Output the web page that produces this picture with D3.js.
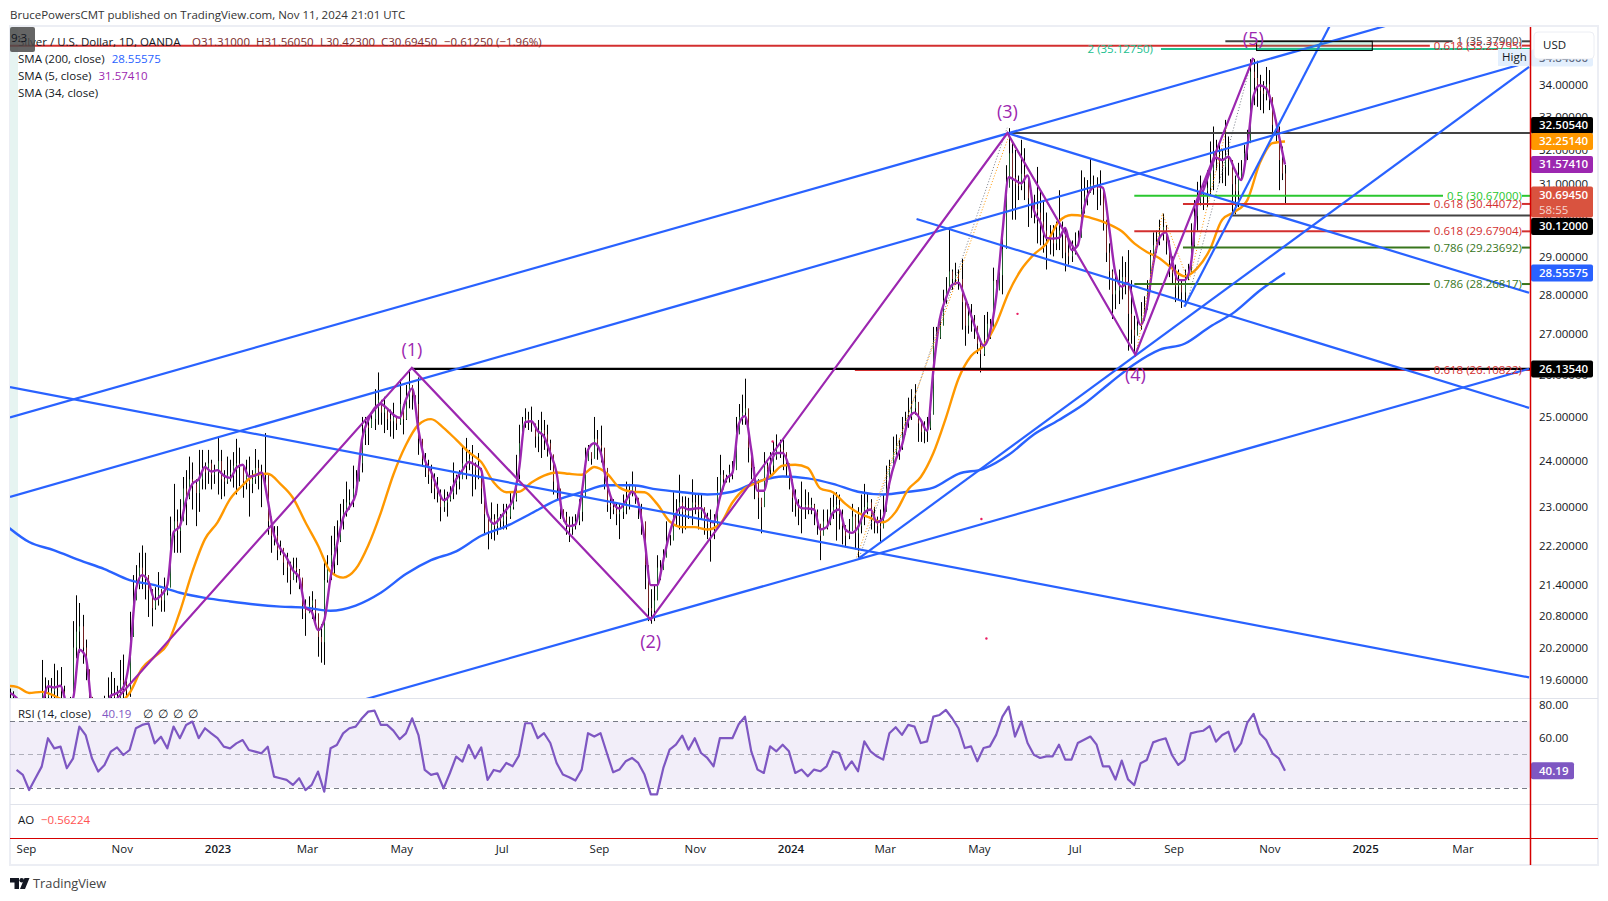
<!DOCTYPE html>
<html>
<head>
<meta charset="utf-8">
<title>Silver / U.S. Dollar</title>
<script src="https://cdn.jsdelivr.net/npm/d3@7"></script>
<style>
  html, body { margin: 0; padding: 0; background: #fff; }
  svg { display: block; }
  text { font-family: "Open Sans", sans-serif; font-size: 11.5px; fill: #131722; }
</style>
</head>
<body>
<div id="chart"></div>
<script>
// daily bars, oldest first, one bar every two days up to the last session
var barHigh = [
  19.45,19.4,19.2,19.1,19.05,18.95,18.9,19.0,19.1,19.2,
  19.97,19.65,19.6,19.64,19.9,19.78,19.84,19.5,19.2,19.3,
  20.7,21.2,21.05,20.82,20.35,19.78,19.2,19.0,18.9,19.1,
  19.32,19.65,19.75,19.64,19.5,19.97,20.07,19.6,20.88,21.6,
  21.8,22.05,22.2,22.05,21.6,21.32,21.36,21.66,21.32,21.55,
  21.45,22.8,23.5,22.95,23.17,23.65,23.8,24.1,23.97,23.6,
  24.25,24.25,23.97,24.25,24.03,23.92,24.55,24.25,23.8,24.1,
  24.03,24.2,24.5,24.3,23.92,24.03,24.1,23.8,24.27,24.03,
  23.92,24.63,23.05,22.8,22.6,22.6,22.3,22.05,22.05,21.87,
  21.95,21.95,21.72,21.37,21.12,21.18,21.28,21.12,20.68,20.64,
  21.9,22.0,22.4,22.6,22.72,23.07,23.17,23.55,23.38,23.9,
  23.8,24.18,25.0,25.0,24.93,25.1,25.65,26.05,25.33,25.47,
  25.05,25.17,25.33,25.0,25.88,25.17,25.75,26.13,25.7,25.5,
  25.93,24.2,24.18,24.03,23.92,23.73,23.65,23.38,23.38,23.33,
  23.45,23.97,23.7,23.8,24.36,24.52,24.25,24.36,23.97,24.18,
  23.8,23.17,22.75,23.1,22.85,23.07,22.85,23.07,23.07,23.32,
  23.27,24.14,24.82,25.0,25.2,25.12,25.24,24.77,24.93,25.12,
  24.93,24.82,24.48,23.8,23.6,23.07,22.95,22.9,22.8,22.8,
  22.85,23.17,23.45,24.3,24.36,24.14,25.0,24.7,24.8,24.14,
  23.22,23.23,23.17,23.07,23.07,23.27,23.55,23.5,23.77,23.38,
  23.17,23.07,22.33,21.4,21.32,21.4,22.0,21.9,22.12,22.7,
  22.42,23.32,23.17,23.7,23.23,23.23,23.2,23.6,23.27,23.27,
  23.27,22.95,22.88,22.95,22.85,23.65,24.14,23.8,23.7,23.92,
  24.0,25.0,25.3,25.52,25.9,24.93,24.18,23.87,23.6,23.17,
  24.2,23.97,24.2,24.43,24.6,24.48,24.48,24.18,23.92,23.5,
  23.38,23.17,23.55,23.38,23.32,23.2,23.07,22.95,22.6,22.95,
  22.95,23.2,23.27,23.32,23.27,22.95,22.62,22.75,23.07,22.85,
  23.0,23.27,23.5,23.32,23.17,23.0,22.8,22.95,23.27,23.9,
  24.03,24.55,24.6,24.48,25.0,25.12,25.45,25.65,25.77,25.05,
  24.93,24.9,25.0,25.35,27.17,27.17,27.5,28.12,28.45,29.8,
  28.65,28.83,28.65,28.93,27.45,27.75,27.75,27.47,27.0,26.87,
  27.47,27.55,27.37,28.7,28.37,28.7,29.7,31.55,32.65,32.2,
  32.0,31.25,32.3,32.05,31.2,30.83,30.7,31.5,30.83,30.55,
  30.2,29.85,29.85,29.95,30.83,29.95,29.75,29.43,29.43,29.65,
  29.7,31.4,31.2,31.12,31.75,31.25,31.2,31.4,30.35,29.43,
  29.35,28.65,28.55,28.65,29.0,28.85,29.17,28.37,27.45,27.45,
  27.8,27.95,28.37,29.17,29.65,29.7,30.0,30.17,29.85,29.43,
  29.0,28.78,28.65,28.37,28.65,28.8,29.9,30.55,31.07,31.25,
  31.07,31.4,32.25,32.7,32.3,32.15,32.0,32.9,32.4,31.7,
  31.25,31.62,31.7,32.15,32.6,34.8,34.8,34.75,34.3,34.1,
  34.55,34.45,33.1,32.9,32.7,32.1,31.56
];
var barLow = [
  19.0,18.95,18.8,18.7,18.55,18.5,18.4,18.5,18.6,18.7,
  19.0,19.0,19.0,19.1,19.15,19.1,19.05,18.9,18.7,18.8,
  19.0,20.0,20.1,19.9,19.6,19.0,18.6,18.4,18.3,18.5,
  18.8,18.9,19.0,19.0,18.95,19.2,19.25,19.15,19.3,20.4,
  21.12,21.32,21.32,21.12,20.78,20.6,20.92,21.0,20.88,20.88,
  21.2,22.12,22.05,22.05,22.05,23.1,22.62,23.17,22.95,22.6,
  22.9,23.38,23.38,23.5,23.38,23.5,23.27,23.17,23.23,23.5,
  23.55,23.42,23.27,23.45,23.2,23.38,22.8,23.3,23.5,23.38,
  23.0,23.45,22.42,22.05,22.2,21.9,22.0,21.6,21.45,21.22,
  21.6,21.45,21.32,20.74,20.42,20.88,20.74,20.65,20.03,19.92,
  19.88,21.45,21.5,21.6,21.8,22.27,22.53,22.8,22.95,23.0,
  23.27,23.6,23.75,24.36,24.36,24.75,24.7,24.82,24.82,24.63,
  24.7,24.55,24.5,24.7,24.82,24.6,24.93,25.2,25.17,25.1,
  24.14,23.87,23.65,23.5,23.3,23.17,23.1,22.7,22.9,22.8,
  23.12,23.17,23.27,23.38,23.7,23.6,23.8,23.23,23.38,23.6,
  23.07,22.45,22.12,22.33,22.3,22.42,22.53,22.53,22.53,22.75,
  22.95,23.12,23.6,24.48,24.75,24.7,24.66,24.3,24.2,24.07,
  24.25,24.1,23.8,23.27,23.17,22.75,22.7,22.42,22.27,22.42,
  22.53,22.62,22.7,23.55,24.03,23.92,24.25,24.03,23.97,23.38,
  22.9,22.75,22.85,22.62,22.33,22.75,22.85,22.95,23.23,23.07,
  22.75,22.42,21.32,20.7,20.65,20.7,21.55,21.5,21.75,22.0,
  22.2,22.45,22.62,22.53,22.45,22.53,22.75,22.62,22.85,22.53,
  22.75,22.42,22.33,21.87,22.33,23.07,23.23,23.38,23.53,23.53,
  23.6,24.36,24.7,24.82,24.82,23.97,23.6,23.17,22.75,22.45,
  23.6,23.55,23.7,23.7,24.03,24.07,23.8,23.65,23.38,22.9,
  22.8,22.62,22.45,22.75,22.85,22.85,22.62,22.42,21.9,22.53,
  22.53,22.62,22.75,22.3,22.53,22.22,22.18,22.33,22.53,22.12,
  21.95,22.45,22.62,22.85,22.53,22.45,22.45,22.27,22.62,22.95,
  23.65,23.87,24.14,24.03,24.25,24.6,24.75,24.93,25.05,24.43,
  24.43,24.4,24.43,24.7,26.13,26.7,26.87,27.37,27.75,28.12,
  28.12,28.25,28.12,27.1,26.7,27.0,27.05,26.87,26.5,26.05,
  26.45,27.0,26.87,28.0,27.87,28.25,28.0,30.0,31.03,30.0,
  30.0,30.55,30.83,30.55,29.8,30.05,29.9,29.35,29.3,29.1,
  28.65,29.05,29.0,29.17,29.17,28.95,28.6,28.78,28.85,29.05,
  29.3,29.85,30.17,30.4,30.83,30.7,30.27,30.4,29.7,28.85,
  28.12,27.37,27.62,27.75,27.87,28.0,26.58,26.75,26.5,27.0,
  27.1,27.33,27.87,28.78,28.9,29.1,29.3,29.43,29.05,28.45,
  28.25,27.8,27.87,27.65,27.75,28.37,28.78,29.25,29.7,30.4,
  30.27,30.35,30.7,30.83,31.4,31.03,31.03,30.95,31.25,30.15,
  30.15,30.35,31.12,31.4,31.7,33.35,33.35,33.3,33.2,33.1,
  33.5,33.2,32.4,32.25,30.83,31.12,30.42
];
var barClose = [
  19.2,19.15,19.0,18.9,18.8,18.7,18.65,18.8,18.95,19.05,
  19.4,19.3,19.35,19.4,19.5,19.45,19.4,19.2,18.95,19.05,
  20.2,20.5,20.6,20.2,19.8,19.3,18.85,18.7,18.6,18.8,
  19.1,19.3,19.35,19.3,19.25,19.6,19.55,19.4,20.4,21.1,
  21.4,21.75,21.55,21.6,21.3,20.95,21.1,21.3,21.1,21.25,
  21.35,22.4,22.7,22.5,22.7,23.4,23.2,23.6,23.5,23.3,
  23.6,23.85,23.75,23.95,23.7,23.75,24.0,23.6,23.55,23.7,
  23.75,23.9,23.95,23.9,23.55,23.7,23.5,23.6,23.85,23.7,
  23.75,23.7,22.7,22.4,22.4,22.1,22.15,21.85,21.75,21.5,
  21.75,21.7,21.55,21.0,20.85,21.0,21.1,20.85,20.4,20.3,
  21.5,21.8,22.0,22.2,22.3,22.7,22.9,23.1,23.15,23.4,
  23.55,23.95,24.6,24.8,24.75,24.95,25.2,25.4,25.1,25.2,
  24.95,24.9,25.0,24.85,25.3,24.95,25.4,25.75,25.5,25.3,
  24.5,24.05,23.9,23.7,23.6,23.4,23.3,23.0,23.1,23.15,
  23.3,23.5,23.55,23.6,23.95,24.0,24.05,23.9,23.8,23.85,
  23.4,22.85,22.5,22.75,22.6,22.8,22.7,22.85,22.8,23.0,
  23.15,23.7,24.4,24.85,24.95,24.9,24.85,24.55,24.65,24.7,
  24.6,24.4,24.15,23.55,23.4,22.95,22.8,22.65,22.55,22.6,
  22.7,22.9,23.2,24.0,24.2,24.05,24.5,24.35,24.3,23.85,
  23.05,23.0,22.95,22.85,22.9,23.0,23.15,23.3,23.45,23.2,
  22.95,22.7,21.8,20.95,20.9,21.1,21.75,21.7,21.95,22.3,
  22.3,22.9,22.9,23.1,22.9,22.85,22.95,23.1,23.05,22.9,
  23.0,22.7,22.65,22.55,22.6,23.35,23.7,23.6,23.62,23.75,
  23.8,24.6,25.0,25.1,25.2,24.3,23.85,23.5,23.2,23.0,
  23.9,23.8,23.9,24.1,24.3,24.25,24.2,23.95,23.6,23.2,
  23.05,22.95,23.0,23.05,23.0,23.05,22.9,22.65,22.4,22.7,
  22.65,22.9,23.0,23.05,22.85,22.6,22.4,22.5,22.8,22.45,
  22.6,22.9,23.0,23.1,22.85,22.7,22.6,22.55,22.9,23.4,
  23.85,24.2,24.35,24.3,24.6,24.85,25.0,25.2,25.35,24.85,
  24.65,24.7,24.75,25.05,26.8,26.9,27.2,27.85,28.1,28.6,
  28.4,28.5,28.4,27.8,27.2,27.45,27.35,27.2,26.75,26.5,
  26.85,27.25,27.1,28.35,28.1,28.5,29.2,30.9,31.9,31.2,
  31.0,30.95,31.3,31.2,30.6,30.45,30.3,30.2,29.95,29.7,
  29.5,29.45,29.35,29.5,29.7,29.6,29.1,29.0,29.1,29.3,
  29.5,30.3,30.65,30.75,31.0,30.95,30.85,30.9,30.0,29.1,
  28.6,28.0,28.1,28.2,28.45,28.3,27.5,27.1,26.95,27.2,
  27.45,27.6,28.1,29.0,29.3,29.4,29.65,29.8,29.4,28.9,
  28.55,28.2,28.3,28.05,28.4,28.55,29.3,30.1,30.5,30.75,
  30.8,30.9,31.4,31.9,31.75,31.6,31.5,31.85,31.7,31.0,
  30.8,31.2,31.4,31.9,32.2,34.4,34.2,33.9,33.8,33.7,
  34.0,33.6,32.75,32.6,31.7,31.31,30.69
];

// SMA 5, one reading every four days
var sma5Values = [
  19.37,19.28,19.05,18.9,18.95,19.15,19.49,19.47,19.5,19.2,
  19.28,20.16,20.03,19.1,18.7,18.9,19.32,19.37,19.47,20.0,
  21.31,21.6,21.47,21.12,21.2,21.4,22.47,22.6,23.15,23.5,
  23.6,23.87,23.77,23.8,23.68,23.63,23.85,23.92,23.66,23.68,
  23.75,23.15,22.42,22.14,21.95,21.7,21.55,20.96,20.88,20.53,
  20.72,21.55,22.2,22.77,23.0,23.27,24.48,24.93,25.2,25.3,
  25.2,25.05,24.98,25.4,25.67,24.7,24.03,23.77,23.42,23.15,
  23.27,23.6,23.8,23.98,23.92,23.8,22.85,22.65,22.77,22.95,
  23.15,23.8,24.88,24.9,24.68,24.55,24.18,23.74,22.8,22.6,
  22.63,23.3,24.25,24.4,24.2,23.52,23.1,22.97,23.13,23.33,
  23.1,22.33,21.4,21.4,21.9,22.45,22.85,23.0,22.95,22.97,
  22.98,22.77,22.68,23.2,23.6,23.74,24.83,25.02,24.25,23.35,
  23.35,23.92,24.18,24.18,23.87,23.2,22.98,22.97,22.95,22.53,
  22.58,22.88,22.95,22.53,22.46,22.58,22.88,22.95,22.68,22.77,
  23.52,24.03,24.36,24.93,25.1,24.93,24.68,26.1,27.35,27.9,
  28.25,28.3,27.93,27.47,27.02,26.7,27.02,27.93,29.65,31.2,
  31.12,31.03,31.25,30.27,29.95,29.5,29.48,29.5,29.77,29.17,
  29.3,30.33,30.83,30.95,30.9,29.77,28.55,28.2,28.3,27.72,
  27.22,27.67,28.78,29.5,29.65,28.9,28.37,28.37,28.78,30.4,
  30.83,31.35,31.77,31.7,31.8,31.42,31.12,32.08,33.65,33.97,
  33.87,33.33,32.45,31.574
];
// SMA 34, one reading every eight days
var sma34Values = [
  19.5,19.48,19.37,19.39,19.32,19.2,19.1,19.0,19.05,19.15,
  19.37,19.82,20.03,20.26,20.88,21.67,22.33,22.68,23.17,23.47,
  23.7,23.72,23.5,23.2,22.68,22.2,21.67,21.55,21.72,22.2,
  22.88,23.7,24.36,24.82,24.95,24.75,24.48,24.2,23.98,23.53,
  23.32,23.33,23.53,23.68,23.75,23.72,23.7,23.87,23.73,23.42,
  23.33,23.32,23.07,22.7,22.58,22.58,22.53,22.64,23.1,23.4,
  23.53,23.66,23.9,23.92,23.85,23.4,23.32,23.07,22.88,22.77,
  22.68,22.9,23.38,23.65,24.18,24.98,25.9,26.45,26.7,27.25,
  28.05,28.65,29.05,29.35,29.95,30.13,30.1,30.0,29.87,29.68,
  29.35,29.12,28.95,28.68,28.47,28.68,29.17,30.0,30.22,30.55,
  31.62,32.2,32.251
];
// SMA 200, one reading every sixteen days
var sma200Values = [
  22.65,22.27,22.1,21.9,21.72,21.5,21.4,21.25,21.15,21.08,
  21.02,20.98,20.96,20.9,21.0,21.25,21.62,21.9,22.08,22.4,
  22.6,22.87,23.15,23.32,23.47,23.47,23.38,23.32,23.27,23.33,
  23.55,23.66,23.62,23.5,23.33,23.27,23.33,23.42,23.72,23.83,
  24.14,24.6,24.93,25.3,25.78,26.25,26.6,26.75,27.17,27.55,
  28.1,28.556
];
// RSI 14, one reading every four days
var rsiValues = [
  40.7,37.7,28.6,35.7,42.7,59.8,53.7,54.7,41.7,47.7,
  66.8,61.7,47.7,39.7,43.7,51.7,54.3,49.7,52.7,65.8,
  67.8,68.8,56.7,60.7,53.7,66.8,59.8,67.8,69.8,59.8,
  65.8,62.7,59.8,54.7,53.7,56.7,58.7,52.7,51.7,50.7,
  54.7,36.7,35.7,34.7,31.7,35.7,28.6,31.7,39.7,27.6,
  53.7,55.7,62.7,65.8,66.8,71.8,75.8,76.4,67.8,67.8,
  64.4,59.2,62.7,71.8,61.7,40.7,37.7,38.7,29.6,38.7,
  48.7,45.7,55.7,47.7,54.3,34.7,40.7,39.7,
  44.9,42.9,49.3,68.8,68.8,59.8,62.8,56.9,44.9,37.9,
  36.3,34.3,40.9,62.8,60.8,62.8,50.9,39.3,40.9,45.9,
  47.9,44.9,37.9,26.0,26.0,41.9,52.9,55.9,61.4,52.9,
  59.8,50.9,47.9,42.9,59.8,59.8,59.8,68.2,72.8,51.9,
  40.9,38.9,54.9,51.9,55.9,51.9,38.9,40.9,36.9,
  40.9,39.9,42.9,51.9,50.9,40.9,45.9,39.9,57.9,51.9,
  48.9,46.9,62.8,66.4,61.8,67.8,66.8,56.9,57.9,72.8,
  73.8,76.8,71.8,65.8,53.9,54.9,45.9,53.9,54.9,61.8,
  72.8,78.8,60.8,69.8,56.9,49.9,47.9,48.9,48.9,55.9,
  46.9,46.9,56.9,58.9,60.8,55.9,42.9,42.9,34.9,
  46.3,35,31.6,44.7,46.7,57.3,58.7,59.7,49.7,43.7,
  46.7,62.7,63.7,64.3,67.1,57.7,61.7,63.7,51.7,56.7,
  69.2,74.4,62.7,58.7,50.7,47.7,40.19
];

// price axis and time axis labels
var priceTicks = [19.6,20.2,20.8,21.4,22.2,23,24,25,26,27,28,29,30,31,32,33,34,35];
var rsiTicks = [60,80];
var timeTickDays = [0,61,122,179,239,303,365,426,487,547,607,668,731,792,853,915];
var timeTickLabels = ["Sep","Nov","2023","Mar","May","Jul","Sep","Nov","2024","Mar","May","Jul","Sep","Nov","2025","Mar"];

// Elliott wave pivots, days counted from 1 Sep 2022
var waveDays = [53.5,245.8,397.9,625.2,706.7,781.8];
var wavePrices = [19.13,26.16,20.73,32.5,26.48,34.84];
var waveLabels = ["(1)","(2)","(3)","(4)","(5)"];
var waveLabelPrices = [26.6,20.3,33.15,26.0,35.45];

// trend lines: start day, start price, end day, end price
var trendStartDays = [-10.2,-10.2,200,-10.2,625.2,567.3,530.3,737.9];
var trendStartPrices = [24.99,23.22,19.13,25.7,32.5,30.02,21.93,27.68];
var trendEndDays = [875,957.5,957.5,957.5,957.5,957.5,957.5,833.4];
var trendEndPrices = [36.02,34.71,26.14,19.65,28.04,25.21,34.55,36.18];

// dotted fib trend lines
var dotStartDays = [531,528.4,625,707,724,739.2,741];
var dotStartPrices = [21.97,21.9,32.47,26.48,30.17,27.72,28.37];
var dotEndDays = [625,626.5,707,723.9,739,781.2,766.5];
var dotEndPrices = [32.66,32.47,26.48,30.17,28.5,34.84,33.0];

// horizontal levels
var levelPrices = [35.379,35.23795,35.1275,32.5054,30.67,30.44072,30.12,29.67904,29.23692,28.26817,26.10822,26.1354];
var levelStartDays = [764,-10.2,723,625.2,706,737,768,706,737,706,528,245.8];
var levelLabels = ["1 (35.37900)","0.618 (35.23795)","","","0.5 (30.67000)","0.618 (30.44072)","","0.618 (29.67904)","0.786 (29.23692)","0.786 (28.26817)","0.618 (26.10822)",""];

// stray pink marks
var markDays = [631.6,608.6,611.8,475.6];
var markPrices = [27.5,22.75,20.37,24.44];

// prices with a tag on the right axis
var tagPrices = [34.84,32.5054,32.2514,31.5741,30.6945,30.12,28.55575,26.1354];

// legend texts
var ohlcTexts = ["O31.31000","H31.56050","L30.42300","C30.69450","\u22120.61250 (\u22121.96%)"];
var legendNames = ["SMA (200, close)","SMA (5, close)","SMA (34, close)"];
var legendValues = ["28.55575","31.57410",""];

// styles
var blue = "#2962ff", purple = "#9c27b0", orange = "#ff9800", rsiPurple = "#7e57c2";
var dark = "#434343", red = "#d32f2f", teal = "#22c08f", lime = "#2ac72f", moss = "#38761d";
var dotColors = ["#787b86",orange,orange,orange,orange,"#787b86",orange];
var levelColors = [dark,red,teal,dark,lime,red,dark,red,moss,moss,red,"#000000"];
var tagColors = ["#e3effd","#000000",orange,purple,"#d9533f","#000000",blue,"#000000"];
var tagNudge = [0,-7.5,0,0,0,11,0,0];
var legendColors = [blue,purple,"#000"];
var ohlcX = [192,256,320,381,444];

var svgWidth = 1608;
var svgHeight = 901;
var paneLeft = 10, paneRight = 1530, paneTop = 27, mainBottom = 698, rsiBottom = 804, aoBottom = 838, frameBottom = 865;

var svg = d3.select("#chart")
  .append("svg")
  .attr("width", svgWidth)
  .attr("height", svgHeight);

var baseDate = Date.UTC(2022, 8, 1);
var lastDate = Date.UTC(2024, 10, 11);
var dayMs = 86400000;

var xScale = d3.scaleUtc().domain([baseDate, lastDate]).range([26, 1285]);
var yScale = d3.scaleLog().domain([19.28, 35.85]).range([mainBottom, paneTop]);
var rsiScale = d3.scaleLinear().domain([20.2, 84]).range([rsiBottom, mainBottom]);

// x position of a day count from the base date
function dayX(d) {
  return xScale(new Date(baseDate + d * dayMs));
}

// dates of a series that ends on the last bar, step days apart
function seriesDates(n, step) {
  return d3.range(n).map(i => new Date(lastDate - (n - 1 - i) * step * dayMs));
}

svg.append("defs").append("clipPath").attr("id", "mainClip")
  .append("rect")
  .attr("x", paneLeft).attr("y", paneTop)
  .attr("width", paneRight - paneLeft).attr("height", mainBottom - paneTop);

// frame
svg.append("rect")
  .attr("x", 10).attr("y", 26)
  .attr("width", 1588).attr("height", 839)
  .attr("fill", "none").attr("stroke", "#eceef4").attr("stroke-width", 2);

svg.append("rect")
  .attr("x", paneLeft).attr("y", paneTop)
  .attr("width", 8).attr("height", mainBottom - paneTop)
  .attr("fill", "#e6f4f1");

[mainBottom, rsiBottom].forEach(function(y) {
  svg.append("line")
    .attr("x1", 10).attr("x2", 1598)
    .attr("y1", y + 0.5).attr("y2", y + 0.5)
    .attr("stroke", "#e0e3eb");
});

// RSI pane background
svg.append("rect")
  .attr("x", paneLeft).attr("width", paneRight - paneLeft)
  .attr("y", rsiScale(70)).attr("height", rsiScale(30) - rsiScale(70))
  .attr("fill", rsiPurple).attr("opacity", 0.1);

[70, 50, 30].forEach(function(v) {
  svg.append("line")
    .attr("x1", paneLeft).attr("x2", paneRight)
    .attr("y1", Math.round(rsiScale(v)) + 0.5).attr("y2", Math.round(rsiScale(v)) + 0.5)
    .attr("stroke", "#787b86")
    .attr("stroke-opacity", v === 50 ? 0.55 : 1)
    .attr("stroke-dasharray", "5 4");
});

var mainGroup = svg.append("g").attr("clip-path", "url(#mainClip)");

// bars: black range with a thin coloured body
var barDates = seriesDates(barHigh.length, 2);
var barXs = barDates.map(d => Math.round(xScale(d)) + 0.5);

mainGroup.append("g").selectAll("line")
  .data(barHigh)
  .enter()
  .append("line")
  .attr("x1", (d, i) => barXs[i])
  .attr("x2", (d, i) => barXs[i])
  .attr("y1", d => yScale(d))
  .attr("y2", (d, i) => yScale(barLow[i]))
  .attr("stroke", "#000");

// body runs from the previous close to this close
mainGroup.append("g").selectAll("line")
  .data(barClose)
  .enter()
  .append("line")
  .attr("x1", (d, i) => barXs[i])
  .attr("x2", (d, i) => barXs[i])
  .attr("y1", (d, i) => yScale(i > 0 ? barClose[i - 1] : d))
  .attr("y2", d => yScale(d))
  .attr("stroke", (d, i) => d >= (i > 0 ? barClose[i - 1] : d) ? "#1e5c2c" : "#6e1f1f");

function drawSeries(values, step, color, curve) {
  var dates = seriesDates(values.length, step);
  var line = d3.line()
    .x((d, i) => xScale(dates[i]))
    .y(d => yScale(d))
    .curve(curve);
  mainGroup.append("path")
    .datum(values)
    .attr("d", line)
    .attr("fill", "none")
    .attr("stroke", color)
    .attr("stroke-width", 2.4)
    .attr("stroke-linejoin", "round");
}

drawSeries(sma200Values, 16, blue, d3.curveMonotoneX);
drawSeries(sma34Values, 8, orange, d3.curveMonotoneX);
drawSeries(sma5Values, 4, purple, d3.curveMonotoneX);

// dotted fib lines
dotColors.forEach(function(color, i) {
  mainGroup.append("line")
    .attr("x1", dayX(dotStartDays[i])).attr("y1", yScale(dotStartPrices[i]))
    .attr("x2", dayX(dotEndDays[i])).attr("y2", yScale(dotEndPrices[i]))
    .attr("stroke", color)
    .attr("stroke-width", 1)
    .attr("stroke-dasharray", "1 2");
});

// horizontal levels, broken where the label sits
levelPrices.forEach(function(price, i) {
  var y = yScale(price);
  var label = null;
  if (levelLabels[i]) {
    label = svg.append("text")
      .attr("x", 1522).attr("y", y + 4)
      .attr("text-anchor", "end")
      .style("fill", levelColors[i])
      .text(levelLabels[i]);
  }
  var wide = price === 26.1354 ? 2.4 : 2;
  if (label) {
    var gapStart = 1522 - label.node().getComputedTextLength() - 4;
    mainGroup.append("line")
      .attr("x1", dayX(levelStartDays[i])).attr("x2", gapStart)
      .attr("y1", y).attr("y2", y)
      .attr("stroke", levelColors[i]).attr("stroke-width", wide);
    mainGroup.append("line")
      .attr("x1", 1522).attr("x2", paneRight)
      .attr("y1", y).attr("y2", y)
      .attr("stroke", levelColors[i]).attr("stroke-width", wide);
  } else {
    mainGroup.append("line")
      .attr("x1", dayX(levelStartDays[i])).attr("x2", paneRight)
      .attr("y1", y).attr("y2", y)
      .attr("stroke", levelColors[i]).attr("stroke-width", wide);
  }
});

svg.append("text")
  .attr("x", 1153).attr("y", yScale(35.1275) + 4)
  .attr("text-anchor", "end")
  .style("fill", teal)
  .text("2 (35.12750)");

// fib box up at the high
svg.append("rect")
  .attr("x", dayX(783.9)).attr("y", yScale(35.379))
  .attr("width", dayX(857.6) - dayX(783.9))
  .attr("height", yScale(35.1275) - yScale(35.379) + 1.5)
  .attr("fill", teal).attr("fill-opacity", 0.2)
  .attr("stroke", "#000").attr("stroke-width", 1);

// trend lines
trendStartDays.forEach(function(d, i) {
  mainGroup.append("line")
    .attr("x1", dayX(d)).attr("y1", yScale(trendStartPrices[i]))
    .attr("x2", dayX(trendEndDays[i])).attr("y2", yScale(trendEndPrices[i]))
    .attr("stroke", blue)
    .attr("stroke-width", 2.2);
});

// wave count
var waveLine = d3.line()
  .x((d, i) => dayX(waveDays[i]))
  .y(d => yScale(d));

mainGroup.append("path")
  .datum(wavePrices)
  .attr("d", waveLine)
  .attr("fill", "none")
  .attr("stroke", purple)
  .attr("stroke-width", 2.2);

waveLabels.forEach(function(label, i) {
  svg.append("text")
    .attr("x", dayX(waveDays[i + 1]))
    .attr("y", yScale(waveLabelPrices[i]) + 6)
    .attr("text-anchor", "middle")
    .style("font-size", "18px")
    .style("fill", purple)
    .text(label);
});

mainGroup.selectAll("circle")
  .data(markPrices)
  .enter()
  .append("circle")
  .attr("cx", (d, i) => dayX(markDays[i]))
  .attr("cy", d => yScale(d))
  .attr("r", 1.2)
  .attr("fill", "#e91e63");

// RSI line
var rsiDates = seriesDates(rsiValues.length, 4);
var rsiLine = d3.line()
  .x((d, i) => xScale(rsiDates[i]))
  .y(d => rsiScale(d));

svg.append("path")
  .datum(rsiValues)
  .attr("d", rsiLine)
  .attr("fill", "none")
  .attr("stroke", rsiPurple)
  .attr("stroke-width", 2.2)
  .attr("stroke-linejoin", "round");

// axes
var priceAxis = svg.append("g")
  .attr("transform", `translate(${paneRight}, 0)`)
  .call(d3.axisRight(yScale).tickValues(priceTicks).tickFormat(d3.format(".5f")).tickSize(0).tickPadding(9));
priceAxis.select(".domain").remove();
priceAxis.selectAll("text").style("font-size", "11.5px").style("font-family", '"Open Sans", sans-serif');

var rsiAxis = svg.append("g")
  .attr("transform", `translate(${paneRight}, 0)`)
  .call(d3.axisRight(rsiScale).tickValues(rsiTicks).tickFormat(d3.format(".2f")).tickSize(0).tickPadding(9));
rsiAxis.select(".domain").remove();
rsiAxis.selectAll("text").style("font-size", "11.5px").style("font-family", '"Open Sans", sans-serif');

var timeAxis = svg.append("g")
  .attr("transform", `translate(0, ${aoBottom + 6})`)
  .call(d3.axisBottom(xScale)
    .tickValues(timeTickDays.map(d => new Date(baseDate + d * dayMs)))
    .tickFormat((d, i) => timeTickLabels[i])
    .tickSize(0)
    .tickPadding(1));
timeAxis.select(".domain").remove();
timeAxis.selectAll("text")
  .style("font-size", "11.5px")
  .style("font-family", '"Open Sans", sans-serif')
  .style("font-weight", (d, i) => /^20/.test(timeTickLabels[i]) ? 600 : 400);

// price tags
tagPrices.forEach(function(price, i) {
  var y = yScale(price) + tagNudge[i];
  var tall = price === 30.6945;
  svg.append("rect")
    .attr("x", paneRight + 1).attr("y", y - 8.5)
    .attr("width", 62).attr("height", tall ? 31 : 17)
    .attr("rx", 2)
    .attr("fill", tagColors[i]);
  svg.append("text")
    .attr("x", 1539).attr("y", y + 4)
    .style("fill", i === 0 ? "#5d6b82" : "#fff")
    .style("font-weight", 600)
    .text(d3.format(".5f")(price));
  if (tall) {
    svg.append("text")
      .attr("x", 1539).attr("y", y + 19)
      .style("fill", "#f6d6cf")
      .text("58:55");
  }
});

// High tag and the currency button sit on top of the axis
svg.append("rect")
  .attr("x", 1498).attr("y", 49)
  .attr("width", 32).attr("height", 17)
  .attr("fill", "#e3effd");
svg.append("text")
  .attr("x", 1502).attr("y", 61)
  .text("High");

svg.append("rect")
  .attr("x", 1534).attr("y", 32)
  .attr("width", 60).attr("height", 27)
  .attr("rx", 4)
  .attr("fill", "#fff")
  .attr("stroke", "#eceef4");
svg.append("text")
  .attr("x", 1543).attr("y", 49)
  .text("USD");

// RSI tag
svg.append("rect")
  .attr("x", paneRight + 1).attr("y", rsiScale(40.19) - 8.5)
  .attr("width", 43).attr("height", 17)
  .attr("rx", 2)
  .attr("fill", rsiPurple);
svg.append("text")
  .attr("x", 1539).attr("y", rsiScale(40.19) + 4)
  .style("fill", "#fff")
  .style("font-weight", 600)
  .text("40.19");

// red cursor lines
svg.append("line")
  .attr("x1", paneRight + 0.5).attr("x2", paneRight + 0.5)
  .attr("y1", paneTop).attr("y2", frameBottom)
  .attr("stroke", "#d50000").attr("stroke-width", 1.5);
svg.append("line")
  .attr("x1", paneLeft).attr("x2", 1598)
  .attr("y1", aoBottom + 0.5).attr("y2", aoBottom + 0.5)
  .attr("stroke", "#d50000");

// legend texts
svg.append("text").attr("x", 10).attr("y", 19).style("fill", "#333").text("BrucePowersCMT published on TradingView.com, Nov 11, 2024 21:01 UTC");

svg.append("text").attr("x", 18).attr("y", 46).text("Silver / U.S. Dollar, 1D, OANDA");
ohlcTexts.forEach(function(t, i) {
  svg.append("text").attr("x", ohlcX[i]).attr("y", 46).style("fill", "#7a2a2a").text(t);
});

svg.append("rect")
  .attr("x", 10).attr("y", 27)
  .attr("width", 25).attr("height", 25)
  .attr("rx", 2)
  .attr("fill", "#4a4a4a").attr("fill-opacity", 0.85);
svg.append("text").attr("x", 11).attr("y", 42).text("9:3");

legendNames.forEach(function(name, i) {
  var label = svg.append("text").attr("x", 18).attr("y", 63 + i * 17).text(name);
  svg.append("text")
    .attr("x", 18 + label.node().getComputedTextLength() + 7)
    .attr("y", 63 + i * 17)
    .style("fill", legendColors[i])
    .text(legendValues[i]);
});

svg.append("text").attr("x", 18).attr("y", 718).text("RSI (14, close)");
svg.append("text").attr("x", 102).attr("y", 718).style("fill", rsiPurple).text("40.19");
[143, 158, 173, 188].forEach(function(x) {
  svg.append("text").attr("x", x).attr("y", 718).text("\u2205");
});
svg.append("text").attr("x", 18).attr("y", 824).text("AO");
svg.append("text").attr("x", 41).attr("y", 824).style("fill", "#ff5252").text("\u22120.56224");

// TradingView logo
svg.append("path")
  .attr("d", "M10 878h9v11h-4.5v-6.5H10zM29.5 878l-4.5 11h-5l4.5-11z")
  .attr("fill", "#131722");
svg.append("circle").attr("cx", 21.7).attr("cy", 880.3).attr("r", 2.3).attr("fill", "#131722");
svg.append("text").attr("x", 33).attr("y", 888).style("font-size", "12.8px").style("fill", "#444").text("TradingView");
</script>
</body>
</html>
